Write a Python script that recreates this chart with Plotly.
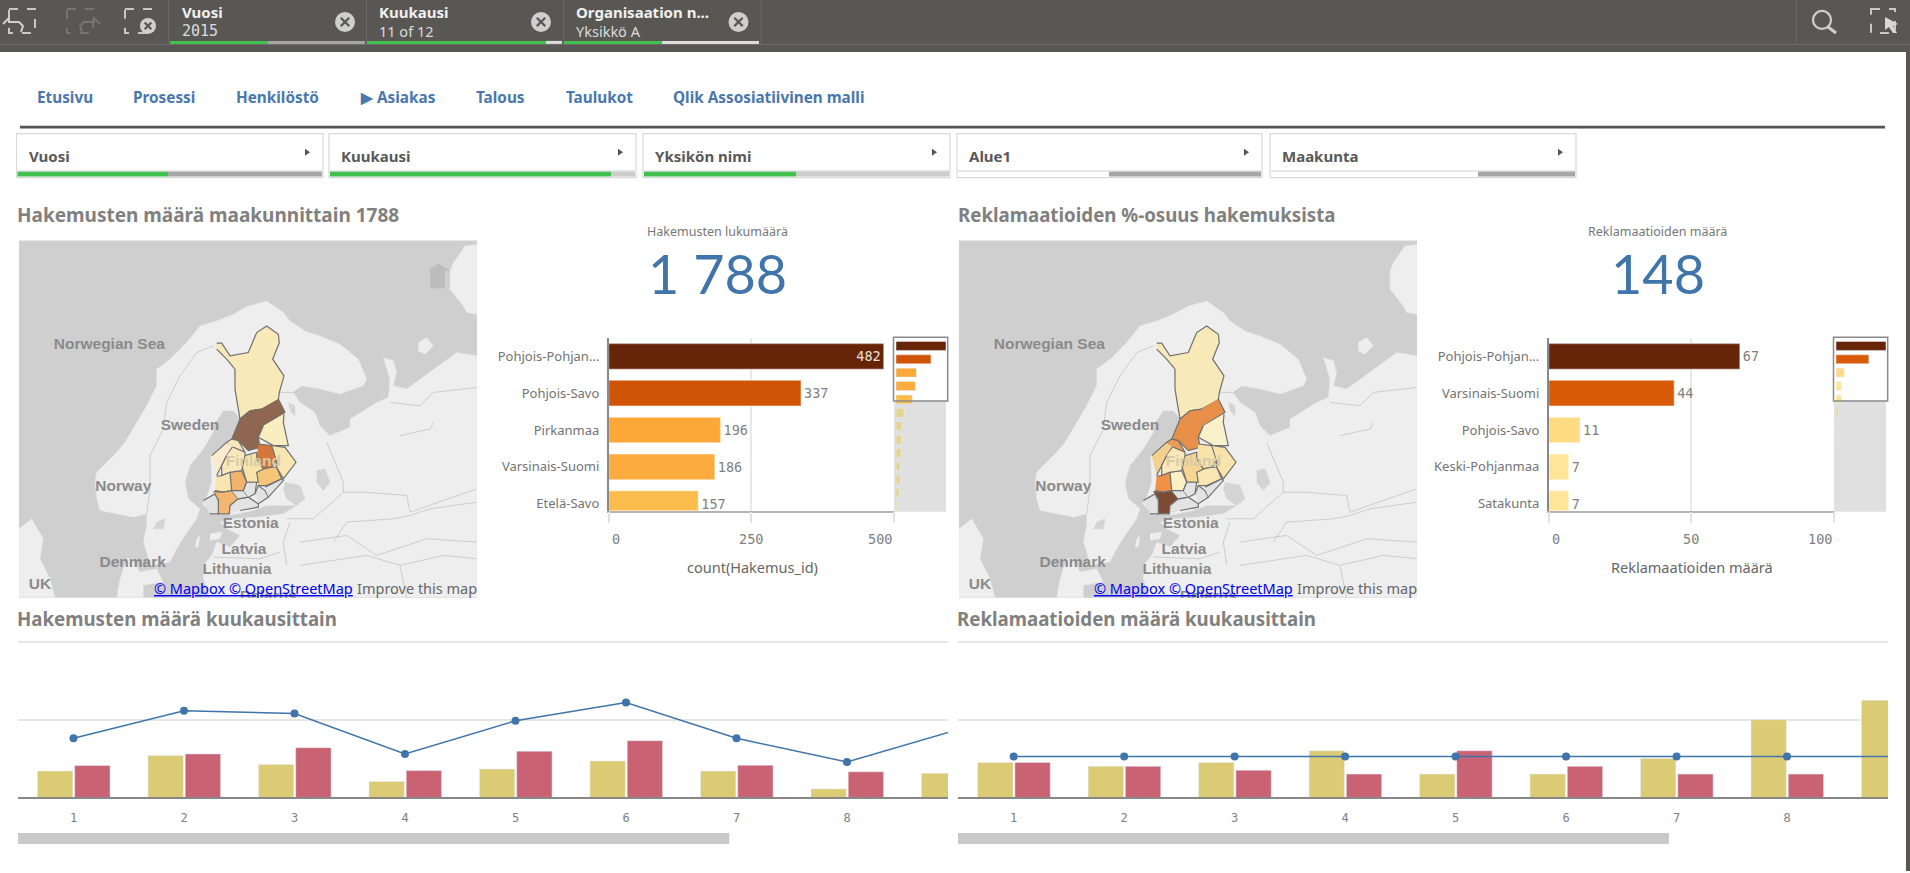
import numpy as np
import plotly.graph_objects as go

W = 1910
H = 873

# Datat
maakunnat_hak = ['Pohjois-Pohjan...', 'Pohjois-Savo', 'Pirkanmaa', 'Varsinais-Suomi', 'Etelä-Savo']
hakemukset = [482, 337, 196, 186, 157, 77, 54, 51, 48, 38, 38, 32, 10]
hak_colors = ['#662506', '#d05405', '#fca838', '#fcac3e', '#fdbd4c'] + ['#e6d48e'] * 8
hak_ticks = [0, 250, 500]

maakunnat_rek = ['Pohjois-Pohjan...', 'Varsinais-Suomi', 'Pohjois-Savo', 'Keski-Pohjanmaa', 'Satakunta']
reklamaatiot = [67, 44, 11, 7, 7, 3, 1, 1]
rek_colors = ['#662506', '#d95b08', '#fedb82', '#fee598', '#fee598'] + ['#e6d9a0'] * 3
rek_ticks = [0, 50, 100]

kuukaudet = [1, 2, 3, 4, 5, 6, 7, 8, 9]
hak_edellinen = [68, 108, 85, 41, 73, 94, 68, 22, 62]
hak_nykyinen = [82, 112, 128, 69, 119, 146, 83, 66, None]
hak_viiva = [152, 223, 216, 112, 197, 244, 152, 91, 174]
rek_edellinen = [9, 8, 9, 12, 6, 6, 10, 20, 25]
rek_nykyinen = [9, 8, 7, 6, 12, 8, 6, 6, None]
rek_viiva = [10.5, 10.5, 10.5, 10.5, 10.5, 10.5, 10.5, 10.5, 10.5]

# Kartan ääriviivat, luettu kuvasta (kartan omat koordinaatit)
manner = [(440,975),(400,985),(350,975),(300,965),(290,930),(285,880),(290,850),(330,810),(350,790),(375,760),
          (410,700),(440,650),(470,590),(470,540),(510,510),(560,460),(600,410),(650,395),(700,375),(745,350),
          (800,335),(850,370),(870,395),(915,425),(960,440),(1020,465),(1075,510),(1100,570),(1090,590),(1020,615),
          (960,600),(905,590),(880,610),(900,640),(945,670),(960,710),(990,740),(1050,715),(1050,690),(1100,660),
          (1130,640),(1165,625),(1170,570),(1150,505),(1180,515),(1190,550),(1180,590),(1220,600),(1280,555),(1370,490),
          (1431,500),(1431,1227),(630,1227),(610,1170),(610,1130),(635,1100),(650,1060),(690,1075),(720,1040),(680,1020),
          (660,1000),(690,990),(770,985),(850,975),(890,950),(850,950),(800,950),(760,965),(700,978),(640,978),
          (608,945),(620,925),(635,880),(632,800),(680,760),(695,745),(722,690),(700,665),(670,665),(640,710),
          (640,730),(610,780),(570,830),(555,880),(565,930),(600,960),(590,990),(555,1040),(530,1080),(510,1120),
          (450,1130),(440,1090),(430,1060),(440,1010)]
tanska = [(380,1110),(400,1110),(420,1150),(470,1140),(490,1180),(430,1190),(430,1227),(350,1227),(360,1170)]
britannia = [(57,1020),(95,990),(130,1050),(120,1110),(150,1170),(165,1227),(57,1227)]
kolgujev = [(1255,460),(1280,445),(1300,470),(1275,495),(1255,485)]
novaja = [(1431,165),(1395,170),(1360,220),(1350,245),(1350,300),(1390,350),(1400,370),(1431,375)]
gotlanti = [(590,1050),(600,1040),(595,1075),(585,1075)]
saarenmaa = [(630,1035),(665,1030),(660,1050),(630,1055)]
laatokka = [(855,880),(900,890),(915,930),(890,950),(860,930),(850,900)]
aanisjarvi = [(950,845),(975,840),(990,880),(970,905),(950,880)]
vanern = [(470,1000),(495,990),(490,1020),(460,1020)]
oulujarvi = [(865,640),(885,650),(885,680),(870,665)]
maa_alueet = [manner, tanska, britannia, kolgujev, novaja, gotlanti, saarenmaa]
jarvet = [laatokka, aanisjarvi, vanern, oulujarvi]

rajat = [
    [(440,975),(450,900),(450,800),(490,720),(500,640),(540,560),(590,490),(640,470)],
    [(838,610),(880,610),(900,600)],
    [(870,1000),(850,1060),(860,1130)],
    [(640,1105),(780,1110),(840,1090)],
    [(1170,640),(1260,650),(1300,610),(1430,595)],
    [(1030,910),(1100,910),(1220,920),(1230,970),(1430,900)],
    [(980,760),(1030,880),(1030,910),(940,990),(860,990)],
    [(1200,740),(1290,720),(1300,700)],
    [(1040,1000),(1180,990),(1230,980),(1290,960),(1430,940)],
    [(900,1060),(1040,1040),(1130,1100),(1280,1050),(1431,1060)],
    [(900,1130),(1100,1100),(1200,1130),(1330,1100),(1431,1110)],
    [(1200,1130),(1220,1227)],
    [(1040,1000),(1000,1060)],
]

lappi = [(650,462),(665,462),(690,500),(745,490),(770,430),(800,410),(835,435),(838,460),(818,510),(852,560),
         (838,610),(835,632),(785,660),(750,665),(720,690),(705,600),(705,540),(680,510),(650,480)]
p_pohjanmaa = [(835,630),(855,670),(790,710),(775,745),(780,775),(745,785),(715,755),(695,750),(720,690),(750,665),(785,660)]
kainuu = [(852,675),(850,700),(865,770),(820,770),(775,745),(790,710)]
p_savo = [(775,765),(815,770),(830,815),(815,835),(790,840),(770,810)]
p_karjala = [(820,770),(855,775),(888,820),(850,870),(830,835),(830,815)]
e_savo = [(770,850),(790,840),(815,835),(830,835),(845,870),(800,890),(775,890)]
k_suomi = [(735,800),(770,790),(770,810),(790,840),(770,850),(775,880),(740,880),(725,830)]
pirkanmaa = [(690,850),(725,845),(740,880),(730,905),(695,905)]
pohjanmaa = [(635,800),(680,760),(700,770),(680,800),(665,830),(650,860)]
k_pohjanmaa = [(680,760),(695,750),(715,755),(735,790),(700,775)]
e_pohjanmaa = [(700,775),(735,790),(735,800),(725,845),(690,850),(665,860),(665,830),(680,800)]
satakunta = [(650,862),(665,860),(690,850),(695,905),(670,910),(645,905)]
v_suomi = [(640,908),(670,910),(695,905),(715,930),(690,950),(688,975),(655,975),(655,930)]
ahvenanmaa = [(610,935),(645,915),(655,935),(655,975),(630,975)]
uusimaa = [(688,975),(690,950),(715,930),(745,925),(775,945),(775,955),(720,965)]
k_hame = [(695,905),(730,905),(745,925),(715,930)]
p_hame = [(730,905),(740,880),(770,880),(765,915),(745,925)]
kymenlaakso = [(765,915),(775,890),(795,905),(805,925),(775,945)]
e_karjala = [(795,895),(845,870),(850,875),(805,925)]

alueet = [lappi, p_pohjanmaa, kainuu, p_savo, p_karjala, e_savo, k_suomi, pirkanmaa, pohjanmaa, k_pohjanmaa,
          e_pohjanmaa, satakunta, v_suomi, ahvenanmaa, uusimaa, k_hame, p_hame, kymenlaakso, e_karjala]
kartta1_varit = ['#f8e9b8', '#8f664f', '#f8eebf', '#d5763a', '#f9e6b0', '#f5c678', '#f8e4a9', '#f2b36d', '#f8eccd', '#f8e8bb',
                 '#f8e8bb', '#f8e5b0', '#f2b671', '#e2e2e2', '#e3e3e3', '#e3e3e3', '#e3e3e3', '#e3e3e3', '#e3e3e3']
kartta2_varit = ['#f8e9b8', '#e8904a', '#f9f1cc', '#f8e4a9', '#f8e3aa', '#f9e6b3', '#f6d592', '#fbf0c6', '#f4d08f', '#ee9a58',
                 '#fae8ba', '#ee9247', '#7d4b33', '#e2e2e2', '#e3e3e3', '#e3e3e3', '#e3e3e3', '#e3e3e3', '#e3e3e3']
kartta_nimet = ['Norwegian Sea', 'Sweden', 'Norway', 'Estonia', 'Latvia', 'Lithuania', 'Denmark', 'UK', 'Finland', 'Belarus']
kartta_nimi_x = [328, 570, 370, 752, 732, 711, 398, 120, 760, 805]
kartta_nimi_y = [468, 711, 895, 1006, 1083, 1143, 1123, 1190, 820, 1225]
kartta_nimi_varit = ['#8a8a8a'] * 8 + ['#d6cba6', '#8a8a8a']

DARK = '#595754'
GREEN = '#40c04c'
SANS = 'Noto Sans'
MONO = 'DejaVu Sans Mono'
BLUE = '#3f75ab'


def px(x):
    return x / W


def py(y):
    return 1 - y / H


def dom_x(a, b):
    return [a / W, b / W]


def dom_y(top, bottom):
    return [1 - bottom / H, 1 - top / H]


shapes = []
annotations = []


def rect(x0, y0, x1, y1, fill=None, line=None, width=1, layer='below', dash=None):
    shapes.append(dict(type='rect', xref='paper', yref='paper', x0=px(x0), y0=py(y0), x1=px(x1), y1=py(y1),
                       fillcolor=fill if fill else 'rgba(0,0,0,0)', layer=layer,
                       line=dict(color=line if line else 'rgba(0,0,0,0)', width=width if line else 0, dash=dash)))


def path(pts, color=None, width=1.5, fill=None, layer='above', close=False):
    d = 'M ' + ' L '.join(f'{px(x):.5f} {py(y):.5f}' for x, y in pts) + (' Z' if close else '')
    shapes.append(dict(type='path', xref='paper', yref='paper', path=d, layer=layer,
                       fillcolor=fill if fill else 'rgba(0,0,0,0)',
                       line=dict(color=color if color else 'rgba(0,0,0,0)', width=width if color else 0)))


def circle(cx, cy, r, fill=None, line=None, width=1.5):
    shapes.append(dict(type='circle', xref='paper', yref='paper', x0=px(cx - r), y0=py(cy - r), x1=px(cx + r), y1=py(cy + r),
                       fillcolor=fill if fill else 'rgba(0,0,0,0)', layer='above',
                       line=dict(color=line if line else 'rgba(0,0,0,0)', width=width if line else 0)))


def label(x, y, text, size, color, family=SANS, anchor='left', weight=None, under=False):
    font = dict(size=size, color=color, family=family)
    if weight:
        font['weight'] = weight
    if under:
        font['lineposition'] = 'under'
    annotations.append(dict(x=px(x), y=py(y), xref='paper', yref='paper', text=text, showarrow=False,
                            xanchor=anchor, yanchor='middle', font=font, borderpad=0))


def close_x(cx, cy, r, fill='#cfcfcf', color=DARK):
    circle(cx, cy, r, fill=fill)
    k = r * 0.42
    path([(cx - k, cy - k), (cx + k, cy + k)], color, 2.2)
    path([(cx - k, cy + k), (cx + k, cy - k)], color, 2.2)


# Yläpalkki
rect(0, 0, W, 52, fill=DARK)
rect(0, 44, W, 45, fill='#6e6c69')
rect(1906, 52, W, H, fill=DARK)
for sep in [168, 366, 563, 760.5, 1796]:
    rect(sep, 0, sep + 1, 44, fill='#6a6865')

rect(9, 9, 35, 33, line='#c8c8c8', width=2, dash='dash', layer='above')
path([(3, 24), (9, 18), (9, 22), (19, 22), (23, 26), (21, 32)], '#d0d0d0', 2)
rect(67, 9, 93, 33, line='#767472', width=2, dash='dash', layer='above')
path([(100, 24), (94, 18), (94, 22), (84, 22), (80, 26), (82, 32)], '#767472', 2)
rect(125, 9, 151, 33, line='#c8c8c8', width=2, dash='dash', layer='above')
close_x(148, 26, 8)

chips = [(170, 365, 267.6, '#a5a5a5', 'Vuosi', '2015', MONO, 345),
         (367, 562, 546, '#dddddd', 'Kuukausi', '11 of 12', SANS, 541),
         (564, 759, 662, '#dddddd', 'Organisaation n...', 'Yksikkö A', SANS, 738.5)]
for x0, x1, xg, rest, otsikko, arvo, arvo_font, xc in chips:
    rect(x0, 41, xg, 44, fill=GREEN)
    rect(xg, 41, x1, 44, fill=rest)
    label(x0 + 11, 12, otsikko, 15, '#f0f0f0', weight=700)
    label(x0 + 11, 31.5, arvo, 15 if arvo_font == MONO else 14.5, '#dcdcdc', family=arvo_font)
    close_x(xc, 22, 10)

circle(1822, 20, 9, line='#cfcfcf', width=2.2)
path([(1828, 27), (1836, 33)], '#cfcfcf', 3)
rect(1871, 9, 1895, 33, line='#c8c8c8', width=2, dash='dash', layer='above')
path([(1885, 17), (1898, 24), (1893, 26), (1897, 33), (1893, 33), (1889, 27), (1885, 30)], fill='#d8d8d8', close=True)

# Navigointi
nav_teksti = ['Etusivu', 'Prosessi', 'Henkilöstö', '▶ Asiakas', 'Talous', 'Taulukot', 'Qlik Assosiatiivinen malli']
nav_x = [35.5, 132, 234.5, 359, 475, 565, 672]
for t, x in zip(nav_teksti, nav_x):
    label(x, 97.5, t, 15.3, '#4a77ad', weight=700)
rect(20, 126, 1885, 128.7, fill='#555555')

# Suodattimet
panes = [(16.5, 323, 168, GREEN, '#a6a6a6', 'Vuosi'),
         (329, 636, 611, GREEN, '#cccccc', 'Kuukausi'),
         (643, 950, 796, GREEN, '#cccccc', 'Yksikön nimi'),
         (957, 1262, 1109, '#ffffff', '#a6a6a6', 'Alue1'),
         (1270, 1576, 1478, '#ffffff', '#a6a6a6', 'Maakunta')]
for x0, x1, xg, vasen, oikea, nimi in panes:
    rect(x0, 134, x1, 178, fill='#ffffff', line='#d9d9d9', width=1.2)
    rect(x0 + 1, 172, xg, 177, fill=vasen)
    rect(xg, 172, x1 - 1, 177, fill=oikea)
    rect(x0 + 1, 171, x1 - 1, 172, fill='#cfcfcf')
    label(x0 + 11, 156, nimi, 15, '#595959', weight=700)
    path([(x1 - 18, 149), (x1 - 13, 152.5), (x1 - 18, 156)], fill='#555555', close=True)

# Otsikot
OTSIKKO = '#808080'
label(16, 215, 'Hakemusten määrä maakunnittain 1788', 19, OTSIKKO, weight=700)
label(956.7, 215, 'Reklamaatioiden %-osuus hakemuksista', 18.7, OTSIKKO, weight=700)
label(16, 620, 'Hakemusten määrä kuukausittain', 18.7, OTSIKKO, weight=700)
label(956, 620, 'Reklamaatioiden määrä kuukausittain', 18.7, OTSIKKO, weight=700)

fig = go.Figure()


def add_map(xname, yname, varit):
    for osa in maa_alueet:
        xs, ys = zip(*osa)
        fig.add_trace(go.Scatter(x=xs, y=ys, mode='lines', fill='toself', fillcolor='#eeeeee',
                                 line=dict(color='#e4e4e4', width=0.5), xaxis=xname, yaxis=yname, hoverinfo='skip'))
    for osa in jarvet:
        xs, ys = zip(*osa)
        fig.add_trace(go.Scatter(x=xs, y=ys, mode='lines', fill='toself', fillcolor='#d4d4d4',
                                 line=dict(color='#d4d4d4', width=0.5), xaxis=xname, yaxis=yname, hoverinfo='skip'))
    for raja in rajat:
        xs, ys = zip(*raja)
        fig.add_trace(go.Scatter(x=xs, y=ys, mode='lines', line=dict(color='#c4c4c4', width=0.8),
                                 xaxis=xname, yaxis=yname, hoverinfo='skip'))
    for osa, vari in zip(alueet, varit):
        xs, ys = zip(*osa)
        fig.add_trace(go.Scatter(x=xs, y=ys, mode='lines', fill='toself', fillcolor=vari,
                                 line=dict(color='#707070', width=1.2), xaxis=xname, yaxis=yname, hoverinfo='skip'))
    fig.add_trace(go.Scatter(x=kartta_nimi_x, y=kartta_nimi_y, mode='text', text=kartta_nimet,
                             textfont=dict(family='Liberation Sans', size=15.5, color=kartta_nimi_varit, weight=700),
                             xaxis=xname, yaxis=yname, hoverinfo='skip'))


add_map('x', 'y', kartta1_varit)
add_map('x2', 'y2', kartta2_varit)

koti = [(1283,245),(1315,222),(1350,245),(1335,245),(1335,297),(1290,297),(1290,245)]
xs, ys = zip(*koti)
fig.add_trace(go.Scatter(x=xs, y=ys, mode='lines', fill='toself', fillcolor='#bcbcbc', line=dict(color='#bcbcbc', width=0),
                         xaxis='x', yaxis='y', hoverinfo='skip'))

rect(19, 241, 477, 599, fill='#cfcfcf')
rect(959, 241, 1417, 599, fill='#cfcfcf')

for dx in [0, 940]:
    label(152.5 + dx, 589, '© Mapbox © OpenStreetMap', 14.5, '#0000ee', under=True)
    label(356 + dx, 589, 'Improve this map', 14.5, '#666666')


def add_bars(xname, yname, minix, miniy, nimet, arvot, varit, tekstit):
    fig.add_trace(go.Bar(x=arvot[:5], y=nimet, orientation='h', width=0.7, marker_color=varit[:5],
                         marker_line=dict(color='rgba(255,255,255,0.35)', width=1.5),
                         text=[str(a) for a in arvot[:5]], textposition=tekstit, insidetextanchor='end',
                         textfont=dict(family=MONO, size=13.5, color='#808080'),
                         insidetextfont=dict(family=MONO, size=13.5, color='#e8e2dc'),
                         cliponaxis=False, xaxis=xname, yaxis=yname, hoverinfo='skip'))
    fig.add_trace(go.Bar(x=arvot, y=np.arange(len(arvot)), orientation='h', width=0.67, marker_color=varit,
                         xaxis=minix, yaxis=miniy, hoverinfo='skip'))


add_bars('x3', 'y3', 'x4', 'y4', maakunnat_hak, hakemukset, hak_colors, ['inside'] + ['outside'] * 4)
add_bars('x5', 'y5', 'x6', 'y6', maakunnat_rek, reklamaatiot, rek_colors, ['outside'] * 5)

for dx in [0, 940]:
    rect(894 + dx, 402, 946 + dx, 513, fill='#e0e0e0')
    rect(893.5 + dx, 338, 947.7 + dx, 402, line='#8a8a8a', width=1.5, layer='above')

# Tunnusluvut ja akselien otsikot
label(717.7, 231.7, 'Hakemusten lukumäärä', 12.5, '#777777', anchor='center')
label(717.7, 274, '1 788', 54, BLUE, family='Lato', anchor='center')
label(1657.7, 231.7, 'Reklamaatioiden määrä', 12.5, '#777777', anchor='center')
label(1657.7, 274, '148', 54, BLUE, family='Lato', anchor='center')
label(752, 568, 'count(Hakemus_id)', 14.5, '#666666', anchor='center')
label(1692, 568, 'Reklamaatioiden määrä', 14.5, '#666666', anchor='center')

for xname, ticks in [('x3', hak_ticks), ('x5', rek_ticks)]:
    for t, anchor in zip(ticks, ['left', 'center', 'right']):
        annotations.append(dict(x=t, y=py(540.5), xref=xname, yref='paper', text=str(t), showarrow=False,
                                xanchor=anchor, yanchor='middle', xshift=1 if anchor == 'left' else 0,
                                font=dict(family=MONO, size=13.5, color='#808080')))


def add_months(xname, yname, keltainen, punainen, viiva):
    fig.add_trace(go.Bar(x=kuukaudet, y=keltainen, width=0.32, offset=-0.326, marker_color='#dccb75',
                         xaxis=xname, yaxis=yname, hoverinfo='skip'))
    fig.add_trace(go.Bar(x=kuukaudet, y=punainen, width=0.32, offset=0.011, marker_color='#c96374',
                         xaxis=xname, yaxis=yname, hoverinfo='skip'))
    fig.add_trace(go.Scatter(x=kuukaudet, y=viiva, mode='lines+markers', line=dict(color=BLUE, width=1.5),
                             marker=dict(color=BLUE, size=8), xaxis=xname, yaxis=yname, hoverinfo='skip'))


add_months('x7', 'y7', hak_edellinen, hak_nykyinen, hak_viiva)
add_months('x8', 'y8', rek_edellinen, rek_nykyinen, rek_viiva)

rect(18, 835, 729.3, 846, fill='#c9c9c9')
rect(958, 835, 1669, 846, fill='#c9c9c9')

hidden = dict(visible=False, fixedrange=True)
layout_axes = dict(
    # kartat
    xaxis=dict(domain=dom_x(19, 477), range=[57, 1431], **hidden),
    yaxis=dict(domain=dom_y(241, 599), range=[1227, 153], **hidden),
    xaxis2=dict(domain=dom_x(959, 1417), range=[57, 1431], **hidden),
    yaxis2=dict(domain=dom_y(241, 599), range=[1227, 153], **hidden),
    # minikaaviot
    xaxis4=dict(domain=dom_x(896, 946), range=[0, 482], **hidden),
    yaxis4=dict(domain=dom_y(339, 513), range=[12.41, -0.575], **hidden),
    xaxis6=dict(domain=dom_x(1836, 1886), range=[0, 67], **hidden),
    yaxis6=dict(domain=dom_y(339, 513), range=[12.41, -0.575], **hidden),
)


def bar_x(a, b, ticks):
    return dict(domain=dom_x(a, b), range=[0, ticks[-1]], tickvals=ticks, showticklabels=False,
                ticks='outside', ticklen=11, tickcolor='#e2e2e2', tickwidth=1.5,
                showgrid=True, gridcolor='#e8e8e8', gridwidth=1.5, zeroline=False,
                showline=True, linecolor='#b5b5b5', linewidth=1.5, anchor=None)


def bar_y(nimet):
    return dict(domain=dom_y(339, 511.7), type='category', categoryorder='array', categoryarray=nimet,
                range=[4.19, -0.496], showline=True, linecolor='#888888', linewidth=1.5, ticks='',
                ticklabelstandoff=5, showgrid=False, tickfont=dict(family=SANS, size=13, color='#737373'))


for n, (a, b, ticks, nimet) in {3: (608.7, 894, hak_ticks, maakunnat_hak), 5: (1548.7, 1834, rek_ticks, maakunnat_rek)}.items():
    xa = bar_x(a, b, ticks)
    xa['anchor'] = f'y{n}'
    ya = bar_y(nimet)
    ya['anchor'] = f'x{n}'
    layout_axes[f'xaxis{n}'] = xa
    layout_axes[f'yaxis{n}'] = ya


def month_x(a, b, n):
    return dict(domain=dom_x(a, b), range=[0.496, 8.914], tickvals=kuukaudet[:8], anchor=f'y{n}', showgrid=False,
                zeroline=False, showline=True, linecolor='#888888', linewidth=1.5, ticks='',
                ticklabelstandoff=8, tickfont=dict(family=MONO, size=12, color='#808080'))


def month_y(ylin, n):
    # vara ylös: plotly jättää reunan viereisen ruudukkoviivan piirtämättä
    return dict(domain=dom_y(640.3, 799.3), range=[0, ylin * 159 / 156], tickvals=[ylin / 2, ylin], showticklabels=False,
                anchor=f'x{n}', showgrid=True, gridcolor='#e6e6e6', gridwidth=1.5, zeroline=False, ticks='')


layout_axes['xaxis7'] = month_x(17.8, 948, 7)
layout_axes['yaxis7'] = month_y(400, 7)
layout_axes['xaxis8'] = month_x(958, 1888, 8)
layout_axes['yaxis8'] = month_y(40, 8)

fig.update_layout(
    width=W, height=H, margin=dict(l=0, r=0, t=0, b=0, pad=0), autosize=False,
    paper_bgcolor='white', plot_bgcolor='rgba(0,0,0,0)', showlegend=False, barmode='overlay',
    shapes=shapes, annotations=annotations, **layout_axes
)

fig.write_html("out.html", config={'displayModeBar': False},
               post_script="document.body.style.margin='0';document.body.style.height='873px';document.body.style.overflow='hidden';document.documentElement.style.overflow='hidden';document.documentElement.style.height='873px';")
